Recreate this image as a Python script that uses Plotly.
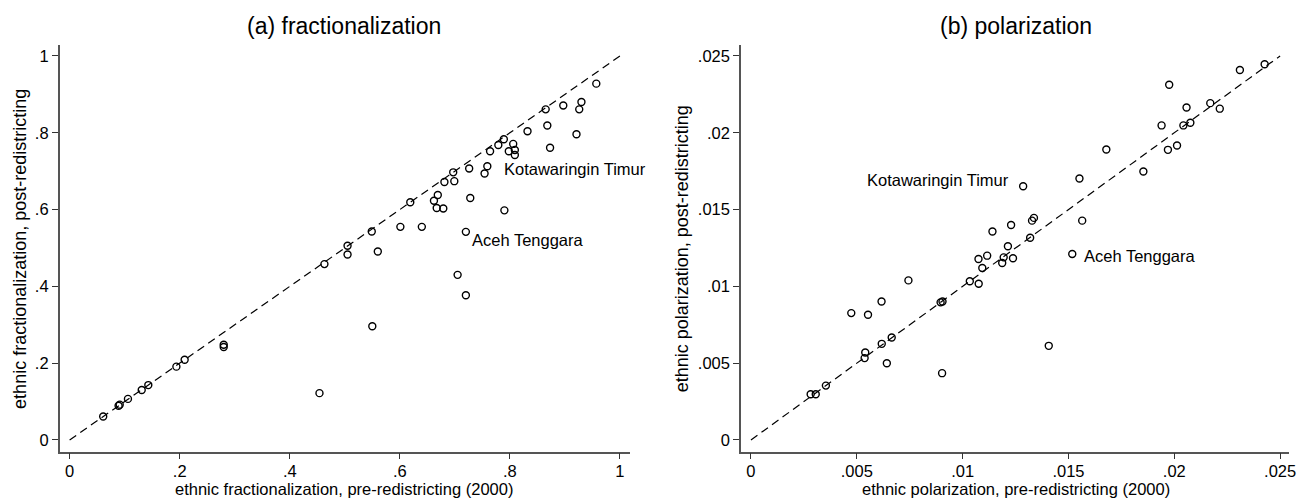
import plotly.graph_objects as go

# ---------------- data ----------------
frac_pre = [0.061, 0.089, 0.091, 0.106, 0.131, 0.143, 0.194, 0.209, 0.280, 0.280,
            0.454, 0.463, 0.505, 0.505, 0.549, 0.560, 0.550, 0.601, 0.619, 0.640,
            0.662, 0.669, 0.667, 0.679, 0.681, 0.697, 0.699, 0.726, 0.728, 0.705,
            0.720, 0.720, 0.754, 0.759, 0.764, 0.779, 0.789, 0.790, 0.798, 0.806,
            0.809, 0.809, 0.832, 0.865, 0.868, 0.873, 0.897, 0.921, 0.926, 0.930,
            0.957]
frac_post = [0.061, 0.089, 0.092, 0.107, 0.130, 0.143, 0.191, 0.209, 0.248, 0.242,
             0.122, 0.458, 0.506, 0.483, 0.543, 0.491, 0.296, 0.555, 0.619, 0.555,
             0.623, 0.638, 0.604, 0.603, 0.672, 0.697, 0.674, 0.707, 0.630, 0.430,
             0.377, 0.542, 0.694, 0.713, 0.752, 0.768, 0.783, 0.598, 0.752, 0.771,
             0.755, 0.742, 0.804, 0.861, 0.819, 0.761, 0.871, 0.796, 0.861, 0.880,
             0.928]

pol_pre = [0.00282, 0.00306, 0.00354, 0.00474, 0.00537, 0.00540, 0.00553, 0.00617,
           0.00618, 0.00642, 0.00665, 0.00744, 0.00896, 0.00905, 0.00903, 0.01034,
           0.01075, 0.01076, 0.01093, 0.01116, 0.01141, 0.01187, 0.01194, 0.01214,
           0.01229, 0.01238, 0.01286, 0.01319, 0.01328, 0.01337, 0.01407, 0.01518,
           0.01552, 0.01565, 0.01679, 0.01854, 0.01940, 0.01970, 0.01976, 0.02013,
           0.02043, 0.02058, 0.02076, 0.02170, 0.02215, 0.02310, 0.02427]
pol_post = [0.00298, 0.00298, 0.00354, 0.00826, 0.00533, 0.00570, 0.00815, 0.00902,
            0.00626, 0.00500, 0.00667, 0.01039, 0.00896, 0.00902, 0.00435, 0.01033,
            0.01178, 0.01017, 0.01120, 0.01200, 0.01357, 0.01152, 0.01189, 0.01261,
            0.01400, 0.01183, 0.01652, 0.01317, 0.01428, 0.01446, 0.00613, 0.01211,
            0.01702, 0.01428, 0.01891, 0.01748, 0.02048, 0.01889, 0.02313, 0.01917,
            0.02048, 0.02165, 0.02065, 0.02193, 0.02157, 0.02409, 0.02446]

frac_ticks = [0, 0.2, 0.4, 0.6, 0.8, 1.0]
frac_ticktext = ["0", ".2", ".4", ".6", ".8", "1"]
pol_ticks = [0, 0.005, 0.01, 0.015, 0.02, 0.025]
pol_ticktext = ["0", ".005", ".01", ".015", ".02", ".025"]

frac_diag = [0, 1]
pol_diag = [0, 0.025]

# labelled districts: (name, index in the panel's arrays)
frac_labels = [("Kotawaringin Timur", 33), ("Aceh Tenggara", 31)]
pol_labels = [("Kotawaringin Timur", 26), ("Aceh Tenggara", 31)]

# ---------------- figure ----------------
W, H = 1307, 499
FONT = "Liberation Sans, Arial, sans-serif"
fig = go.Figure()

marker = dict(symbol="circle-open", size=7, color="black", line=dict(width=1.4, color="black"))
dash_line = dict(color="black", width=1.2, dash="8px,5px")

fig.add_trace(go.Scatter(x=frac_diag, y=frac_diag, mode="lines", line=dash_line,
                         xaxis="x", yaxis="y", showlegend=False, hoverinfo="skip"))
fig.add_trace(go.Scatter(x=frac_pre, y=frac_post, mode="markers", marker=marker,
                         xaxis="x", yaxis="y", showlegend=False))
fig.add_trace(go.Scatter(x=pol_diag, y=pol_diag, mode="lines", line=dash_line,
                         xaxis="x2", yaxis="y2", showlegend=False, hoverinfo="skip"))
fig.add_trace(go.Scatter(x=pol_pre, y=pol_post, mode="markers", marker=marker,
                         xaxis="x2", yaxis="y2", showlegend=False))


def px_x(p):
    return p / W


def px_y(p):
    return 1 - p / H


axis_common = dict(showgrid=False, zeroline=False, showline=True, linecolor="#555555",
                   linewidth=1.5, ticks="outside", ticklen=6, tickwidth=1.3,
                   tickcolor="#333333", tickfont=dict(family=FONT, size=16.5, color="black"))

ydom = [px_y(451.7), px_y(45)]
fig.update_layout(
    width=W, height=H, margin=dict(l=0, r=0, t=0, b=0),
    paper_bgcolor="white", plot_bgcolor="white",
    xaxis=dict(domain=[px_x(60), px_x(633)], range=[-0.01807, 1.01753],
               tickvals=frac_ticks, ticktext=frac_ticktext, anchor="y",
               ticklabelstandoff=-2, **axis_common),
    yaxis=dict(domain=ydom, range=[-0.0305, 1.0286],
               tickvals=frac_ticks, ticktext=frac_ticktext, anchor="x", **axis_common),
    xaxis2=dict(domain=[px_x(745), px_x(1296)], range=[-0.00047, 0.025423],
                tickvals=pol_ticks, ticktext=pol_ticktext, anchor="y2",
                ticklabelstandoff=-2, **axis_common),
    yaxis2=dict(domain=ydom, range=[-0.0305 * 0.025, 1.0286 * 0.025],
                tickvals=pol_ticks, ticktext=pol_ticktext, anchor="x2", **axis_common),
)

title_font = dict(family=FONT, size=23, color="black")
xt_font = dict(family=FONT, size=16.5, color="black")
yt_font = dict(family=FONT, size=18, color="black")
lab_font = dict(family=FONT, size=16.5, color="black")
ann = []
# panel titles
ann.append(dict(text="(a) fractionalization", x=px_x(346), y=px_y(26), xref="paper", yref="paper",
                showarrow=False, font=title_font, xanchor="center", yanchor="middle"))
ann.append(dict(text="(b) polarization", x=px_x(1021), y=px_y(26), xref="paper", yref="paper",
                showarrow=False, font=title_font, xanchor="center", yanchor="middle"))
# axis titles
ann.append(dict(text="ethnic fractionalization, pre-redistricting (2000)", x=px_x(346), y=px_y(499),
                xref="paper", yref="paper", showarrow=False, font=xt_font, borderpad=0,
                xanchor="center", yanchor="bottom"))
ann.append(dict(text="ethnic polarization, pre-redistricting (2000)", x=px_x(1021), y=px_y(499),
                xref="paper", yref="paper", showarrow=False, font=xt_font, borderpad=0,
                xanchor="center", yanchor="bottom"))
ann.append(dict(text="ethnic fractionalization, post-redistricting", x=px_x(20), y=px_y(249),
                xref="paper", yref="paper", showarrow=False, font=yt_font, textangle=-90,
                xanchor="center", yanchor="middle"))
ann.append(dict(text="ethnic polarization, post-redistricting", x=px_x(686), y=px_y(249),
                xref="paper", yref="paper", showarrow=False, font=yt_font, textangle=-90,
                xanchor="center", yanchor="middle"))

# district labels (pixel offsets from their markers)
frac_offsets = {"Kotawaringin Timur": (15, -3, "left"), "Aceh Tenggara": (4, -8, "left")}
pol_offsets = {"Kotawaringin Timur": (-12, 6.5, "right"), "Aceh Tenggara": (10, -2.5, "left")}
for name, i in frac_labels:
    dx, dy, xa = frac_offsets[name]
    ann.append(dict(text=name, x=frac_pre[i], y=frac_post[i], xref="x", yref="y",
                    xshift=dx, yshift=dy, showarrow=False, font=lab_font, xanchor=xa, yanchor="middle"))
for name, i in pol_labels:
    dx, dy, xa = pol_offsets[name]
    ann.append(dict(text=name, x=pol_pre[i], y=pol_post[i], xref="x2", yref="y2",
                    xshift=dx, yshift=dy, showarrow=False, font=lab_font, xanchor=xa, yanchor="middle"))

fig.update_layout(annotations=ann)
fig.write_html("out.html", config={"displayModeBar": False},
               post_script="document.body.style.margin='0';document.body.style.overflow='hidden';")
